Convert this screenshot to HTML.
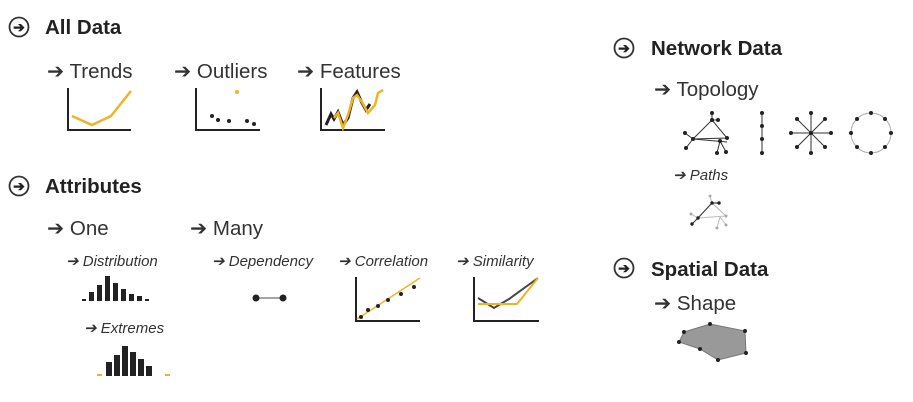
<!DOCTYPE html>
<html><head><meta charset="utf-8"><style>
body{margin:0;background:#fff}
svg{display:block}
text{font-family:"Liberation Sans",sans-serif;fill:#222}
.h{font-weight:bold;font-size:20.5px}
.s{font-size:20.5px;fill:#333}
.i{font-style:italic;font-size:15px;fill:#333}
.ax{stroke:#222;stroke-width:2;fill:none}
.o{stroke:#f0b323;stroke-width:2.5;fill:none}
.k{stroke:#222;stroke-width:3;fill:none}
.e{stroke:#333;stroke-width:1}
</style></head><body>
<svg id="c" width="913" height="402">
<defs>
<g id="circ"><circle r="9.5" fill="#fff" stroke="#333" stroke-width="1.8"/><text x="0" y="5" text-anchor="middle" style="font-size:14px;font-weight:bold">➔</text></g>
</defs>
<g>
<use href="#circ" x="19" y="27"/>
<text class="h" x="45" y="34">All Data</text>
<text class="s" x="47" y="78">➔ Trends</text>
<text class="s" x="174" y="78">➔ Outliers</text>
<text class="s" x="297" y="78">➔ Features</text>
<path class="ax" d="M68,88V130H131"/>
<polyline class="o" points="72,116 92,125 111,116 131,91"/>
<path class="ax" d="M196,88V130H260"/>
<g fill="#222"><circle cx="212" cy="116" r="2"/><circle cx="218" cy="120" r="2"/><circle cx="229" cy="121" r="2"/><circle cx="247" cy="121" r="2"/><circle cx="254" cy="124" r="2"/></g>
<circle cx="237" cy="92" r="2" fill="#f0b323"/>
<path class="ax" d="M321,88V130H385"/>
<polyline class="k" points="326,125 331,114 334,119 338,112 343,125 348,118 353,98 357,92 362,103 366,110 370,104"/>
<polyline class="o" points="334,118 338,113 343,128 348,115 353,98 357,95 362,102 368,113 375,105 378,93 383,90"/>
</g>
<g>
<use href="#circ" x="19" y="186"/>
<text class="h" x="45" y="193">Attributes</text>
<text class="s" x="47" y="235">➔ One</text>
<text class="s" x="190" y="235">➔ Many</text>
<text class="i" x="66" y="266">➔ Distribution</text>
<g fill="#222">
<rect x="82" y="299" width="4" height="2"/><rect x="89" y="292" width="5" height="9"/><rect x="97" y="285" width="5" height="16"/><rect x="105" y="276" width="5" height="25"/><rect x="113" y="283" width="5" height="18"/><rect x="121" y="289" width="5" height="12"/><rect x="129" y="294" width="5" height="7"/><rect x="137" y="296" width="5" height="5"/><rect x="145" y="299" width="4" height="2"/>
</g>
<text class="i" x="84" y="333">➔ Extremes</text>
<g fill="#222">
<rect x="106" y="362" width="6" height="14"/><rect x="114" y="355" width="6" height="21"/><rect x="122" y="346" width="6" height="30"/><rect x="130" y="352" width="6" height="24"/><rect x="138" y="359" width="6" height="17"/><rect x="146" y="366" width="6" height="10"/>
</g>
<rect x="97" y="374" width="5" height="2" fill="#f0b323"/><rect x="165" y="374" width="5" height="2" fill="#f0b323"/>
<text class="i" x="212" y="266">➔ Dependency</text>
<line x1="256" y1="298" x2="283" y2="298" stroke="#888" stroke-width="1.5"/>
<circle cx="256" cy="298" r="3.5" fill="#222"/><circle cx="283" cy="298" r="3.5" fill="#222"/>
<text class="i" x="338" y="266">➔ Correlation</text>
<path class="ax" d="M356,277V321H420"/>
<line class="o" x1="357" y1="319" x2="420" y2="278" style="stroke-width:1.5"/>
<g fill="#222"><circle cx="361" cy="317" r="2"/><circle cx="368" cy="310" r="2"/><circle cx="378" cy="306" r="2"/><circle cx="388" cy="300" r="2"/><circle cx="401" cy="294" r="2"/><circle cx="414" cy="287" r="2"/></g>
<text class="i" x="456" y="266">➔ Similarity</text>
<path class="ax" d="M474,277V321H539"/>
<polyline points="478,298 494,308 509,299 538,278" fill="none" stroke="#444" stroke-width="2"/>
<polyline points="478,304 517,304 538,278" fill="none" stroke="#f0b323" stroke-width="2"/>
</g>
<g>
<use href="#circ" x="624" y="48"/>
<text class="h" x="651" y="55">Network Data</text>
<text class="s" x="654" y="96">➔ Topology</text>
<g class="e" fill="none">
<polyline points="693,139 712,120 727,138 693,139"/><line x1="693" y1="139" x2="727" y2="142"/>
<line x1="712" y1="120" x2="712" y2="113"/><line x1="712" y1="120" x2="718" y2="120"/>
<line x1="693" y1="139" x2="685" y2="133"/><line x1="693" y1="139" x2="686" y2="148"/>
<line x1="720" y1="141" x2="717" y2="153"/><line x1="720" y1="141" x2="726" y2="152"/>
<line x1="762" y1="113" x2="762" y2="153"/>
<line x1="791" y1="133" x2="831" y2="133"/><line x1="811" y1="113" x2="811" y2="153"/><line x1="797" y1="119" x2="825" y2="147"/><line x1="825" y1="119" x2="797" y2="147"/>
<circle cx="871" cy="133" r="20" stroke="#aaa"/>
</g>
<g fill="#222">
<circle cx="712" cy="113" r="2"/><circle cx="718" cy="120" r="2"/><circle cx="712" cy="120" r="2"/><circle cx="727" cy="138" r="2"/><circle cx="693" cy="139" r="2"/><circle cx="685" cy="133" r="2"/><circle cx="686" cy="148" r="2"/><circle cx="720" cy="141" r="2"/><circle cx="717" cy="153" r="2"/><circle cx="726" cy="152" r="2"/>
<circle cx="762" cy="113" r="2"/><circle cx="762" cy="126" r="2"/><circle cx="762" cy="139" r="2"/><circle cx="762" cy="153" r="2"/>
<circle cx="811" cy="133" r="2"/><circle cx="791" cy="133" r="2"/><circle cx="831" cy="133" r="2"/><circle cx="811" cy="113" r="2"/><circle cx="811" cy="153" r="2"/><circle cx="797" cy="119" r="2"/><circle cx="825" cy="147" r="2"/><circle cx="825" cy="119" r="2"/><circle cx="797" cy="147" r="2"/>
<circle cx="871" cy="113" r="2"/><circle cx="871" cy="153" r="2"/><circle cx="851" cy="133" r="2"/><circle cx="891" cy="133" r="2"/><circle cx="857" cy="119" r="2"/><circle cx="885" cy="119" r="2"/><circle cx="857" cy="147" r="2"/><circle cx="885" cy="147" r="2"/>
</g>
<text class="i" x="673" y="180">➔ Paths</text>
<g fill="none" stroke="#bbb" stroke-width="1">
<polyline points="698,218 712,203 726,216 698,218"/><line x1="712" y1="203" x2="710" y2="196"/><line x1="698" y1="218" x2="691" y2="214"/><line x1="720" y1="217" x2="717" y2="228"/><line x1="720" y1="217" x2="726" y2="225"/>
</g>
<g fill="none" stroke="#444" stroke-width="1.2"><polyline points="692,224 698,218 712,203 719,203"/></g>
<g fill="#222"><circle cx="692" cy="224" r="1.7"/><circle cx="698" cy="218" r="1.7"/><circle cx="712" cy="203" r="1.7"/><circle cx="719" cy="203" r="1.7"/></g>
<g fill="#aaa"><circle cx="710" cy="196" r="1.5"/><circle cx="691" cy="214" r="1.5"/><circle cx="726" cy="216" r="1.5"/><circle cx="717" cy="228" r="1.5"/><circle cx="726" cy="225" r="1.5"/></g>
</g>
<g>
<use href="#circ" x="624" y="268"/>
<text class="h" x="651" y="276">Spatial Data</text>
<text class="s" x="654" y="310">➔ Shape</text>
<polygon points="684,332 710,324 745,331 746,353 718,360 700,349 679,342" fill="#999" stroke="#777"/>
<g fill="#222"><circle cx="684" cy="332" r="2"/><circle cx="710" cy="324" r="2"/><circle cx="745" cy="331" r="2"/><circle cx="746" cy="353" r="2"/><circle cx="718" cy="360" r="2"/><circle cx="700" cy="349" r="2"/><circle cx="679" cy="342" r="2"/></g>
</g>
</svg>
</body></html>
